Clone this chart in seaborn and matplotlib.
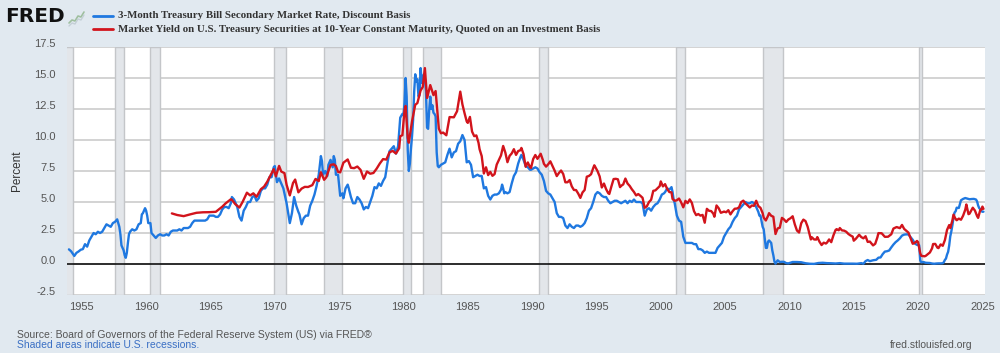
import numpy as np
import pandas as pd
import matplotlib
matplotlib.use("Agg")
import matplotlib.pyplot as plt
import matplotlib.transforms as mtransforms
from matplotlib.lines import Line2D
import seaborn as sns

# 3-Month Treasury Bill, discount basis (month, percent)
tb3_dates = """
1954-01 1954-03 1954-05 1954-06 1954-08 1954-10 1954-12 1955-02 1955-04 1955-06 1955-08 1955-10 1955-12
1956-02 1956-04 1956-06 1956-08 1956-10 1956-12 1957-02 1957-04 1957-06 1957-08 1957-10 1957-11 1957-12
1958-01 1958-02 1958-03 1958-04 1958-05 1958-06 1958-07 1958-08 1958-09 1958-10 1958-12
1959-02 1959-04 1959-06 1959-08 1959-09 1959-10 1959-12 1960-01 1960-02 1960-03 1960-05 1960-06 1960-08 1960-10 1960-12
1961-02 1961-04 1961-06 1961-08 1961-10 1961-12 1962-02 1962-04 1962-06 1962-08 1962-10 1962-12
1963-02 1963-04 1963-06 1963-08 1963-10 1963-12 1964-02 1964-04 1964-06 1964-08 1964-10 1964-12
1965-02 1965-04 1965-06 1965-08 1965-10 1965-12 1966-02 1966-04 1966-06 1966-08 1966-09 1966-11 1966-12
1967-02 1967-04 1967-06 1967-08 1967-10 1967-12 1968-02 1968-04 1968-06 1968-08 1968-10 1968-12
1969-02 1969-04 1969-06 1969-08 1969-10 1969-12 1970-01 1970-03 1970-05 1970-07 1970-09 1970-11 1970-12
1971-02 1971-03 1971-05 1971-07 1971-09 1971-11 1971-12 1972-02 1972-04 1972-06 1972-08 1972-10 1972-12
1973-02 1973-04 1973-06 1973-08 1973-09 1973-10 1973-12 1974-02 1974-03 1974-05 1974-07 1974-08 1974-09 1974-10 1974-12
1975-02 1975-04 1975-05 1975-07 1975-09 1975-10 1975-12 1976-02 1976-04 1976-06 1976-08 1976-10 1976-12
1977-02 1977-04 1977-06 1977-08 1977-10 1977-12 1978-02 1978-04 1978-06 1978-08 1978-10 1978-12
1979-02 1979-04 1979-06 1979-08 1979-10 1979-12 1980-01 1980-02 1980-03 1980-04 1980-05 1980-06 1980-07 1980-08
1980-09 1980-10 1980-11 1980-12 1981-01 1981-02 1981-03 1981-04 1981-05 1981-06 1981-07 1981-08 1981-09 1981-10
1981-11 1981-12 1982-01 1982-02 1982-03 1982-04 1982-05 1982-06 1982-07 1982-08 1982-09 1982-10 1982-12
1983-02 1983-04 1983-06 1983-08 1983-10 1983-12 1984-02 1984-04 1984-06 1984-08 1984-10 1984-12
1985-02 1985-04 1985-06 1985-08 1985-10 1985-12 1986-02 1986-04 1986-06 1986-08 1986-10 1986-12
1987-02 1987-04 1987-06 1987-08 1987-09 1987-10 1987-11 1987-12 1988-02 1988-04 1988-06 1988-08 1988-10 1988-12
1989-02 1989-03 1989-05 1989-07 1989-09 1989-11 1989-12 1990-02 1990-04 1990-06 1990-08 1990-10 1990-12
1991-02 1991-04 1991-06 1991-08 1991-10 1991-12 1992-02 1992-04 1992-06 1992-08 1992-10 1992-12
1993-02 1993-04 1993-06 1993-08 1993-10 1993-12 1994-02 1994-04 1994-06 1994-08 1994-10 1994-12
1995-02 1995-04 1995-06 1995-08 1995-10 1995-12 1996-02 1996-04 1996-06 1996-08 1996-10 1996-12
1997-02 1997-04 1997-06 1997-08 1997-10 1997-12 1998-02 1998-04 1998-06 1998-08 1998-10 1998-12
1999-02 1999-04 1999-06 1999-08 1999-10 1999-12 2000-02 2000-04 2000-05 2000-07 2000-09 2000-11 2000-12
2001-01 2001-02 2001-04 2001-06 2001-08 2001-10 2001-12 2002-02 2002-04 2002-06 2002-08 2002-10 2002-12
2003-02 2003-04 2003-06 2003-08 2003-10 2003-12 2004-02 2004-04 2004-06 2004-08 2004-10 2004-12
2005-02 2005-04 2005-06 2005-08 2005-10 2005-12 2006-02 2006-04 2006-06 2006-08 2006-10 2006-12
2007-02 2007-04 2007-06 2007-08 2007-09 2007-10 2007-12 2008-01 2008-03 2008-04 2008-05 2008-06 2008-08
2008-09 2008-10 2008-11 2008-12 2009-02 2009-04 2009-06 2009-08 2009-10 2009-12
2010-04 2010-08 2010-12 2011-04 2011-08 2011-12 2012-04 2012-08 2012-12 2013-04 2013-08 2013-12
2014-04 2014-08 2014-12 2015-04 2015-08 2015-10 2015-12 2016-02 2016-04 2016-07 2016-10 2016-12
2017-02 2017-04 2017-06 2017-08 2017-10 2017-12 2018-02 2018-04 2018-06 2018-08 2018-10 2018-12
2019-02 2019-04 2019-06 2019-08 2019-10 2019-12 2020-01 2020-02 2020-03 2020-04 2020-06 2020-08 2020-10 2020-12
2021-02 2021-04 2021-06 2021-08 2021-10 2021-12 2022-01 2022-02 2022-03 2022-04 2022-05 2022-06 2022-07
2022-08 2022-09 2022-10 2022-11 2022-12 2023-01 2023-03 2023-05 2023-07 2023-09 2023-11
2024-01 2024-03 2024-05 2024-07 2024-08 2024-09 2024-10 2024-11 2024-12 2025-01 2025-02
""".split()
tb3_values = [
    1.18, 1.03, 0.78, 0.65, 0.9, 1.01, 1.15, 1.2, 1.6, 1.4, 1.9, 2.2, 2.5,
    2.4, 2.6, 2.5, 2.6, 2.9, 3.2, 3.1, 3.0, 3.3, 3.4, 3.6, 3.3, 3.0,
    2.4, 1.5, 1.3, 1.1, 0.7, 0.5, 0.9, 1.7, 2.4, 2.6, 2.8,
    2.7, 2.8, 3.2, 3.3, 4.0, 4.1, 4.5, 4.3, 3.9, 3.3, 3.3, 2.5, 2.3, 2.1, 2.3,
    2.4, 2.3, 2.3, 2.4, 2.3, 2.6, 2.7, 2.7, 2.7, 2.8, 2.7, 2.9,
    2.9, 2.9, 3.0, 3.3, 3.5, 3.5, 3.5, 3.5, 3.5, 3.5, 3.6, 3.9,
    3.9, 3.9, 3.8, 3.8, 4.0, 4.4, 4.6, 4.6, 4.5, 4.9, 5.4, 5.2, 5.0,
    4.6, 3.8, 3.5, 4.3, 4.6, 5.0, 5.0, 5.4, 5.5, 5.1, 5.3, 5.9,
    6.1, 6.1, 6.4, 7.0, 7.0, 7.8, 7.9, 6.6, 6.9, 6.5, 6.1, 5.3, 4.9,
    3.8, 3.3, 4.1, 5.4, 4.7, 4.2, 4.0, 3.2, 3.7, 3.9, 3.9, 4.7, 5.1,
    5.6, 6.3, 7.2, 8.7, 8.3, 7.2, 7.5, 7.1, 8.0, 8.4, 7.8, 8.7, 8.4, 7.2, 7.2,
    5.5, 5.7, 5.3, 6.1, 6.4, 6.1, 5.4, 4.9, 4.9, 5.4, 5.2, 4.9, 4.4,
    4.6, 4.5, 5.0, 5.5, 6.2, 6.1, 6.5, 6.3, 6.7, 7.0, 8.1, 9.1,
    9.3, 9.5, 8.9, 9.5, 11.8, 12.1, 12.0, 13.0, 15.0, 13.5, 9.2, 7.5, 8.1, 9.3,
    10.3, 11.6, 13.9, 15.3, 14.7, 14.9, 13.5, 13.6, 15.8, 14.6, 14.7, 15.3, 14.9, 13.9,
    11.0, 10.9, 12.4, 13.5, 12.5, 12.8, 12.2, 12.1, 11.9, 9.0, 7.9, 7.8, 8.0,
    8.1, 8.2, 8.8, 9.3, 8.6, 9.0, 9.1, 9.7, 9.9, 10.4, 10.0, 8.2,
    8.3, 8.0, 7.0, 7.1, 7.2, 7.1, 7.1, 6.1, 6.2, 5.5, 5.2, 5.5,
    5.6, 5.6, 5.7, 6.0, 6.4, 6.1, 5.7, 5.8, 5.7, 5.8, 6.5, 7.1, 7.4, 8.1,
    8.6, 8.8, 8.4, 7.9, 7.8, 7.6, 7.6, 7.7, 7.8, 7.7, 7.4, 7.2, 6.7,
    5.9, 5.7, 5.6, 5.3, 5.0, 4.1, 3.8, 3.8, 3.7, 3.1, 2.9, 3.2,
    3.0, 2.9, 3.1, 3.1, 3.0, 3.1, 3.3, 3.7, 4.3, 4.5, 5.0, 5.6,
    5.8, 5.7, 5.5, 5.4, 5.4, 5.1, 4.9, 5.0, 5.1, 5.1, 5.0, 4.9,
    5.0, 5.1, 4.9, 5.1, 5.0, 5.2, 5.0, 5.0, 5.0, 4.9, 3.9, 4.4,
    4.5, 4.3, 4.6, 4.8, 4.9, 5.2, 5.6, 5.7, 5.8, 6.1, 6.0, 6.2, 5.8,
    5.2, 4.9, 3.9, 3.5, 3.4, 2.2, 1.7, 1.7, 1.7, 1.7, 1.6, 1.6, 1.2,
    1.2, 1.1, 0.9, 1.0, 0.9, 0.9, 0.9, 0.9, 1.3, 1.5, 1.7, 2.2,
    2.5, 2.8, 3.0, 3.4, 3.7, 3.9, 4.4, 4.6, 4.8, 5.0, 4.9, 4.9,
    5.0, 4.9, 4.6, 4.2, 3.9, 3.9, 3.0, 2.8, 1.3, 1.3, 1.8, 1.9, 1.7,
    1.1, 0.7, 0.2, 0.03, 0.3, 0.16, 0.18, 0.17, 0.07, 0.05,
    0.16, 0.16, 0.14, 0.06, 0.02, 0.01, 0.08, 0.10, 0.07, 0.06, 0.04, 0.07,
    0.03, 0.03, 0.03, 0.02, 0.07, 0.02, 0.23, 0.32, 0.23, 0.30, 0.34, 0.51,
    0.53, 0.80, 1.00, 1.03, 1.09, 1.34, 1.57, 1.76, 1.90, 2.07, 2.29, 2.37,
    2.39, 2.38, 2.17, 1.95, 1.65, 1.54, 1.52, 1.52, 0.29, 0.14, 0.16, 0.10, 0.09, 0.08,
    0.04, 0.02, 0.04, 0.05, 0.05, 0.06, 0.15, 0.33, 0.44, 0.76, 0.98, 1.49, 2.23,
    2.63, 3.13, 3.72, 4.15, 4.25, 4.54, 4.52, 5.14, 5.25, 5.32, 5.27,
    5.22, 5.24, 5.25, 5.20, 5.05, 4.72, 4.51, 4.42, 4.27, 4.21, 4.22,
]

# 10-Year Treasury, constant maturity (month, percent)
gs10_dates = """
1962-01 1962-06 1962-12 1963-06 1963-12 1964-06 1964-12 1965-06 1965-12 1966-03 1966-08 1966-09 1966-12
1967-04 1967-07 1967-11 1968-02 1968-05 1968-08 1968-12 1969-03 1969-06 1969-09 1969-12
1970-02 1970-05 1970-07 1970-10 1970-12 1971-03 1971-06 1971-08 1971-11 1972-02 1972-05 1972-08 1972-12
1973-03 1973-06 1973-08 1973-11 1974-01 1974-05 1974-08 1974-10 1974-12 1975-02 1975-05 1975-09 1975-12
1976-03 1976-06 1976-09 1976-12 1977-03 1977-06 1977-09 1977-12 1978-03 1978-06 1978-09 1978-12
1979-03 1979-06 1979-09 1979-10 1979-12 1980-02 1980-03 1980-05 1980-06 1980-09 1980-12
1981-02 1981-05 1981-07 1981-09 1981-11 1981-12 1982-02 1982-05 1982-07 1982-10 1982-12
1983-02 1983-05 1983-08 1983-12 1984-03 1984-06 1984-08 1984-10 1984-12
1985-01 1985-03 1985-05 1985-07 1985-09 1985-11 1985-12 1986-02 1986-04 1986-06 1986-08 1986-10 1986-12
1987-02 1987-04 1987-06 1987-08 1987-10 1987-12 1988-02 1988-04 1988-06 1988-08 1988-10 1988-12
1989-02 1989-03 1989-05 1989-07 1989-09 1989-11 1989-12 1990-02 1990-04 1990-06 1990-08 1990-09 1990-11 1990-12
1991-02 1991-04 1991-06 1991-08 1991-10 1991-12 1992-02 1992-04 1992-06 1992-08 1992-10 1992-12
1993-02 1993-04 1993-06 1993-08 1993-10 1993-12 1994-02 1994-04 1994-06 1994-08 1994-10 1994-11 1994-12
1995-02 1995-04 1995-06 1995-08 1995-10 1995-12 1996-01 1996-03 1996-05 1996-07 1996-09 1996-11 1996-12
1997-02 1997-04 1997-06 1997-08 1997-10 1997-12 1998-02 1998-04 1998-06 1998-08 1998-10 1998-12
1999-02 1999-04 1999-06 1999-08 1999-10 1999-12 2000-01 2000-03 2000-05 2000-07 2000-09 2000-11 2000-12
2001-02 2001-04 2001-06 2001-08 2001-10 2001-12 2002-02 2002-04 2002-06 2002-08 2002-10 2002-12
2003-02 2003-04 2003-06 2003-08 2003-10 2003-12 2004-02 2004-03 2004-05 2004-07 2004-09 2004-11 2004-12
2005-02 2005-04 2005-06 2005-08 2005-10 2005-12 2006-02 2006-04 2006-06 2006-08 2006-10 2006-12
2007-02 2007-04 2007-06 2007-08 2007-10 2007-12 2008-01 2008-03 2008-05 2008-06 2008-08 2008-10 2008-12
2009-02 2009-04 2009-06 2009-08 2009-10 2009-12 2010-02 2010-04 2010-06 2010-08 2010-10 2010-12
2011-02 2011-04 2011-06 2011-08 2011-09 2011-10 2011-12 2012-02 2012-03 2012-05 2012-07 2012-09 2012-11 2012-12
2013-02 2013-04 2013-06 2013-08 2013-09 2013-11 2013-12 2014-02 2014-04 2014-06 2014-08 2014-10 2014-12
2015-01 2015-03 2015-06 2015-08 2015-10 2015-12 2016-02 2016-04 2016-07 2016-09 2016-11 2016-12
2017-03 2017-06 2017-09 2017-12 2018-02 2018-05 2018-08 2018-10 2018-12
2019-02 2019-04 2019-06 2019-08 2019-10 2019-12 2020-01 2020-03 2020-04 2020-07 2020-08 2020-10 2020-12
2021-02 2021-03 2021-05 2021-07 2021-08 2021-10 2021-12 2022-02 2022-04 2022-06 2022-07 2022-09 2022-10 2022-12
2023-01 2023-03 2023-05 2023-07 2023-09 2023-10 2023-12 2024-01 2024-04 2024-06 2024-08 2024-09 2024-11 2024-12
2025-01 2025-02
""".split()
gs10_values = [
    4.08, 3.95, 3.86, 4.00, 4.13, 4.17, 4.18, 4.21, 4.62, 4.88, 5.22, 5.18, 4.84,
    4.55, 5.01, 5.75, 5.53, 5.70, 5.42, 6.03, 6.24, 6.64, 7.14, 7.65,
    7.07, 7.91, 7.46, 7.33, 6.39, 5.53, 6.53, 6.81, 5.78, 6.08, 6.22, 6.21, 6.36,
    6.86, 6.69, 7.40, 6.79, 6.99, 7.99, 8.04, 7.90, 7.43, 7.39, 8.17, 8.43, 7.76,
    7.73, 7.86, 7.59, 6.87, 7.46, 7.28, 7.34, 7.69, 8.11, 8.46, 8.42, 9.01,
    9.12, 8.91, 9.33, 10.30, 10.39, 12.41, 12.75, 10.18, 9.78, 11.51, 12.84,
    12.98, 13.99, 14.28, 15.80, 13.39, 13.72, 14.43, 13.62, 13.95, 10.91, 10.54,
    10.60, 10.38, 11.85, 11.83, 12.32, 13.90, 12.87, 12.16, 11.50,
    11.38, 11.86, 10.68, 10.31, 10.37, 9.78, 9.26, 8.70, 7.30, 7.80, 7.17, 7.43, 7.11,
    7.25, 8.02, 8.40, 8.76, 9.52, 8.99, 8.21, 8.72, 8.92, 9.26, 8.80, 9.11,
    9.17, 9.36, 8.86, 7.84, 8.19, 7.81, 7.75, 8.47, 8.79, 8.48, 8.75, 8.89, 8.39, 8.08,
    7.85, 8.04, 8.28, 7.90, 7.53, 7.09, 7.34, 7.54, 7.26, 6.59, 6.59, 6.77,
    6.26, 5.97, 5.96, 5.68, 5.33, 5.77, 5.97, 7.04, 7.10, 7.24, 7.74, 7.96, 7.81,
    7.49, 7.06, 6.17, 6.49, 6.04, 5.71, 5.65, 6.27, 6.85, 6.87, 6.83, 6.20, 6.30,
    6.42, 6.89, 6.49, 6.30, 6.03, 5.81, 5.53, 5.64, 5.50, 5.34, 4.53, 4.65,
    5.00, 5.18, 5.90, 5.94, 6.11, 6.28, 6.66, 6.26, 6.44, 6.05, 5.80, 5.78, 5.24,
    5.10, 5.14, 5.28, 4.97, 4.57, 5.09, 4.91, 5.21, 4.93, 4.26, 3.94, 4.03,
    3.90, 3.96, 3.33, 4.45, 4.29, 4.27, 4.06, 3.81, 4.72, 4.50, 4.13, 4.19, 4.23,
    4.17, 4.34, 4.00, 4.26, 4.46, 4.47, 4.57, 4.99, 5.11, 4.88, 4.73, 4.56,
    4.72, 4.69, 5.10, 4.67, 4.53, 4.10, 3.74, 3.51, 3.88, 4.10, 3.89, 3.81, 2.42,
    2.87, 2.93, 3.72, 3.59, 3.39, 3.59, 3.69, 3.85, 3.20, 2.70, 2.54, 3.29,
    3.58, 3.46, 3.00, 2.30, 1.98, 2.15, 1.98, 1.97, 2.17, 1.80, 1.53, 1.72, 1.65, 1.72,
    1.98, 1.76, 2.30, 2.74, 2.81, 2.72, 2.90, 2.71, 2.69, 2.60, 2.42, 2.30, 2.21,
    1.88, 2.04, 2.36, 2.17, 2.07, 2.24, 1.78, 1.81, 1.50, 1.63, 2.14, 2.49,
    2.48, 2.19, 2.20, 2.40, 2.86, 2.98, 2.89, 3.15, 2.83,
    2.68, 2.53, 2.07, 1.63, 1.71, 1.86, 1.76, 0.87, 0.66, 0.62, 0.65, 0.79, 0.93,
    1.26, 1.61, 1.62, 1.32, 1.28, 1.58, 1.47, 1.93, 2.75, 3.14, 2.90, 3.52, 3.98, 3.62,
    3.53, 3.66, 3.57, 3.90, 4.38, 4.80, 4.02, 4.06, 4.54, 4.31, 3.87, 3.72, 4.36, 4.39,
    4.63, 4.45,
]

# NBER recessions (start, end) in decimal years
rec_start = [1953.5, 1957.6, 1960.3, 1969.95, 1973.85, 1980.0, 1981.5, 1990.5, 2001.2, 2007.95, 2020.1]
rec_end = [1954.35, 1958.3, 1961.1, 1970.9, 1975.2, 1980.55, 1982.9, 1991.2, 2001.9, 2009.5, 2020.3]

x_ticks = list(range(1955, 2030, 5))
y_ticks = [-2.5, 0.0, 2.5, 5.0, 7.5, 10.0, 12.5, 15.0, 17.5]

label_tb3 = "3-Month Treasury Bill Secondary Market Rate, Discount Basis"
label_gs10 = "Market Yield on U.S. Treasury Securities at 10-Year Constant Maturity, Quoted on an Investment Basis"


def to_year(d):
    y, m = d.split("-")
    return int(y) + (int(m) - 1) / 12


blue = "#1f78e0"
red = "#d2141c"
bg = "#e1e9f0"

sns.set_theme(style="white")
plt.rcParams["font.family"] = ["Liberation Sans", "DejaVu Sans"]

fig = plt.figure(figsize=(10, 3.53), dpi=100, facecolor=bg)
ax = fig.add_axes([0.067, 1 - 295 / 353, 0.918, (295 - 47) / 353])
ax.set_facecolor("white")

for s, e in zip(rec_start, rec_end):
    ax.axvspan(s, e, facecolor="#e3e6ea", edgecolor="#c4c6c9", lw=1.0, zorder=1)

for yv in y_ticks:
    ax.axhline(yv, color="#d0d0d0", lw=1.3, zorder=0.5)
ax.axhline(0, color="black", lw=1.1, zorder=2)

df_tb3 = pd.DataFrame({"year": [to_year(d) for d in tb3_dates], "rate": tb3_values})
df_gs10 = pd.DataFrame({"year": [to_year(d) for d in gs10_dates], "rate": gs10_values})
sns.lineplot(data=df_tb3, x="year", y="rate", ax=ax, color=blue, lw=1.7, estimator=None, zorder=3)
sns.lineplot(data=df_gs10, x="year", y="rate", ax=ax, color=red, lw=1.7, estimator=None, zorder=4)

ax.set_xlim(1953.85, 2025.2)
ax.set_ylim(-2.5, 17.5)
ax.set_xticks(x_ticks)
ax.set_yticks(y_ticks)
ax.set_yticklabels([f"{v:.1f}" for v in y_ticks])
ax.tick_params(axis="both", length=0, labelsize=8, colors="#555555")
ax.tick_params(axis="x", pad=5)
ax.tick_params(axis="y", pad=8)
for lab in ax.get_yticklabels():
    lab.set_transform(lab.get_transform() + mtransforms.ScaledTranslation(0, 4 / 100, fig.dpi_scale_trans))
for sp in ax.spines.values():
    sp.set_visible(False)
ax.set_xlabel("")
ax.set_ylabel("")
fig.text(0.017, 0.5 * ((353 - 47) + (353 - 295)) / 353, "Percent", rotation=90, ha="center", va="center",
         fontsize=8.5, color="#333333")

# header: logo + legend
fig.text(0.005, 1 - 16 / 353, "FRED", fontsize=14.5, fontweight="bold", color="#111111",
         family=["DejaVu Sans"], va="center", ha="left")
icon_x = np.array([69, 72, 75, 78, 81, 84]) / 1000
icon_y = 1 - np.array([23, 20, 21, 16, 17, 12]) / 353
fig.add_artist(Line2D(icon_x, icon_y, color="#9fbf9f", lw=1.2))
fig.add_artist(Line2D(icon_x, icon_y - 3 / 353, color="#c4cfd6", lw=1.0))
fig.add_artist(Line2D([93 / 1000, 113 / 1000], [1 - 16 / 353] * 2, color=blue, lw=2))
fig.add_artist(Line2D([93 / 1000, 113 / 1000], [1 - 29 / 353] * 2, color=red, lw=2))
fig.text(0.118, 1 - 16 / 353, label_tb3, fontsize=7.8, fontweight="bold", color="#333333",
         family=["Liberation Serif"], va="center")
fig.text(0.118, 1 - 29 / 353, label_gs10, fontsize=7.8, fontweight="bold", color="#333333",
         family=["Liberation Serif"], va="center")

# footer
fig.text(0.017, 1 - 335 / 353, "Source: Board of Governors of the Federal Reserve System (US) via FRED\u00ae",
         fontsize=7.5, color="#555555", va="center")
fig.text(0.017, 1 - 345 / 353, "Shaded areas indicate U.S. recessions.", fontsize=7.5, color="#3a6fc4", va="center")
fig.text(0.973, 1 - 345 / 353, "fred.stlouisfed.org", fontsize=7.5, color="#555555", va="center", ha="right")

fig.savefig("out.png", dpi=100, facecolor=bg)
